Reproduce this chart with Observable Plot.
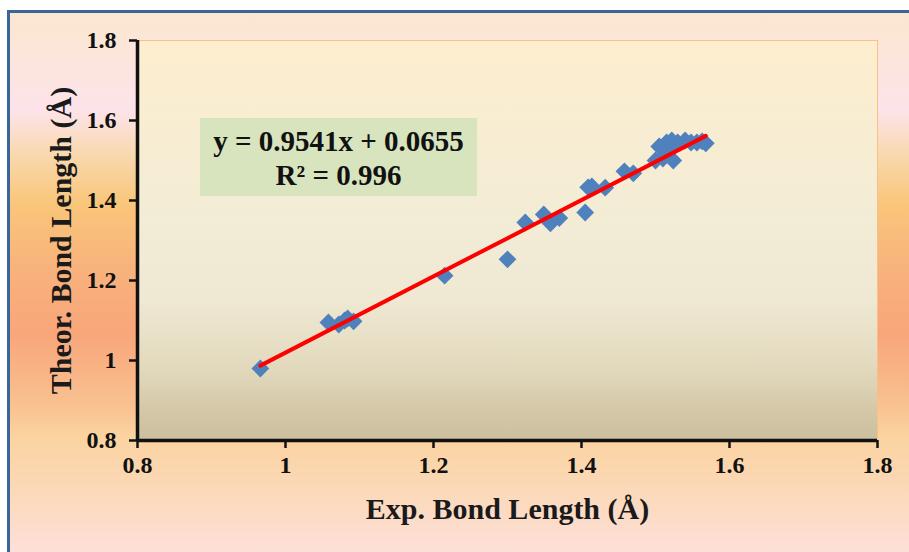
<!DOCTYPE html>
<html><head><meta charset="utf-8">
<script src="https://cdn.jsdelivr.net/npm/d3@7"></script>
<script src="https://cdn.jsdelivr.net/npm/@observablehq/plot@0.6"></script>
<style>
html,body{margin:0;padding:0;width:909px;height:552px;overflow:hidden;background:#fff;}
#bg{position:absolute;left:7px;top:10px;width:930px;height:560px;border-left:3px solid #3a6598;border-top:3px solid #3a6598;
 background:linear-gradient(to bottom,#fbe7d0 0px,#fde3ea 97px,#f9d9b0 140px,#f9c67a 190px,#f8b27c 257px,#f8a67a 320px,#f9c090 390px,#fbd3a0 423px,#fbd8b6 473px,#fde0da 540px);}
#chart{position:absolute;left:0;top:0;}
#eq{position:absolute;left:200px;top:118px;width:277px;height:78px;background:#d7e4bd;
 font-family:'Liberation Serif','Times New Roman',serif;font-weight:bold;font-size:29px;color:#111;text-align:center;line-height:34px;padding-top:6px;box-sizing:border-box;white-space:nowrap;}
</style>
</head><body>
<div id="bg"></div>
<div id="chart"></div>
<div id="eq"></div>
<script>
// Data
const expLen =   [0.966, 1.058, 1.072, 1.080, 1.084, 1.092, 1.215, 1.300, 1.324, 1.349, 1.358, 1.370, 1.405, 1.409, 1.414, 1.432, 1.458, 1.470, 1.500, 1.510, 1.524, 1.505, 1.515, 1.522, 1.530, 1.540, 1.548, 1.556, 1.563, 1.568, 1.520];
const theorLen = [0.980, 1.095, 1.090, 1.100, 1.105, 1.098, 1.212, 1.253, 1.345, 1.365, 1.343, 1.356, 1.370, 1.433, 1.435, 1.432, 1.473, 1.468, 1.500, 1.505, 1.500, 1.535, 1.545, 1.550, 1.545, 1.550, 1.545, 1.545, 1.548, 1.543, 1.528];
const xTicks = [0.8, 1, 1.2, 1.4, 1.6, 1.8];
const yTicks = [0.8, 1, 1.2, 1.4, 1.6, 1.8];
const slope = 0.9541, intercept = 0.0655;
const eqLines = ["y = 0.9541x + 0.0655", "R² = 0.996"];
const xTitle = "Exp. Bond Length (Å)";
const yTitle = "Theor. Bond Length (Å)";

const plotBgStops = [[0, "#fdeecf"], [0.48, "#f2ecd6"], [0.65, "#efe8d2"], [0.82, "#e2d9bd"], [0.92, "#d4c8a8"], [1, "#cbbf9f"]];

const pts = expLen.map((x, i) => ({x, y: theorLen[i]}));
const ext = d3.extent(expLen);
const fit = ext.map(x => ({x, y: slope * x + intercept}));

const font = "'Liberation Serif','Times New Roman',serif";
const chart = Plot.plot({
  width: 909, height: 552,
  marginLeft: 137, marginRight: 32, marginTop: 40, marginBottom: 112,
  style: {background: "transparent", fontFamily: font, fontWeight: "bold", overflow: "visible", color: "#111"},
  x: {domain: [0.8, 1.8]},
  y: {domain: [0.8, 1.8]},
  marks: [
    Plot.frame({fill: "url(#plotbg)", stroke: "#fbc08a", strokeWidth: 1}),
    Plot.axisX(xTicks, {tickSize: 8, tickPadding: 7, fontSize: 24, label: null, stroke: "#111", strokeWidth: 2.5, fill: "#111", tickFormat: d => String(d)}),
    Plot.axisY(yTicks, {tickSize: 8, tickPadding: 13, fontSize: 24, label: null, stroke: "#111", strokeWidth: 2.5, fill: "#111", tickFormat: d => String(d)}),
    Plot.ruleY([0.8], {stroke: "#111", strokeWidth: 3.5}),
    Plot.ruleX([0.8], {stroke: "#111", strokeWidth: 3.5}),
    Plot.dot(pts, {x: "x", y: "y", symbol: "diamond2", r: 8, fill: "#4f81bd", stroke: "none"}),
    Plot.line(fit, {x: "x", y: "y", stroke: "#ff0000", strokeWidth: 4}),
    Plot.text([xTitle], {text: d => d, frameAnchor: "bottom", dy: 69, lineAnchor: "middle", textAnchor: "middle", fontSize: 30, fontWeight: "bold", fill: "#1a1a1a"}),
    Plot.text([yTitle], {text: d => d, frameAnchor: "left", dx: -76, rotate: -90, lineAnchor: "middle", textAnchor: "middle", fontSize: 30, fontWeight: "bold", fill: "#1a1a1a"})
  ]
});

const defs = d3.create("svg:defs");
const grad = defs.append("linearGradient").attr("id", "plotbg").attr("x1", 0).attr("y1", 0).attr("x2", 0).attr("y2", 1);
plotBgStops.forEach(([o, c]) => grad.append("stop").attr("offset", o).attr("stop-color", c));
chart.insertBefore(defs.node(), chart.firstChild);
document.getElementById("chart").appendChild(chart);

const eq = document.getElementById("eq");
eqLines.forEach(t => { const d = document.createElement("div"); d.textContent = t; eq.appendChild(d); });
</script>
</body></html>
